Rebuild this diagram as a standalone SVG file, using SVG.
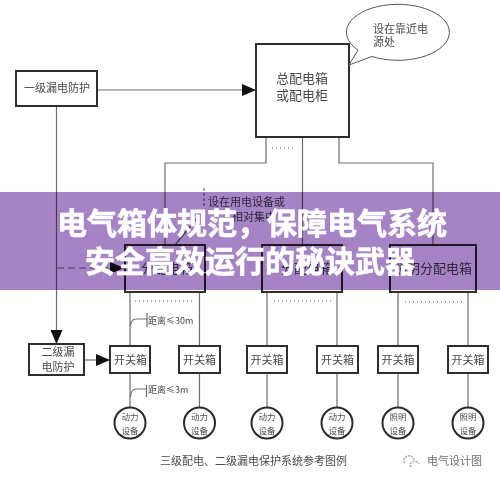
<svg xmlns="http://www.w3.org/2000/svg" width="500" height="483" viewBox="0 0 500 483">
<style>
.t{font-family:"Noto Sans CJK SC","Liberation Sans",sans-serif;fill:#4a4a4a}
.b{fill:#fff;stroke:#2e2e2e;stroke-width:2}
.l{fill:none;stroke:#6e6e6e;stroke-width:1.2}
.c{fill:#fff;stroke:#2a2a2a;stroke-width:2}
.h{font-size:11px}.k{font-size:13px}.m{font-size:11px}.s{font-size:8.5px}.x{font-size:9px}
.ti{font-family:"Noto Sans CJK SC","Liberation Sans",sans-serif;font-size:30px;font-weight:700;fill:#fff;stroke:#fff;stroke-width:.6;text-anchor:middle}
.d{fill:none;stroke:#666;stroke-width:1;stroke-dasharray:1 3}
.band{fill:#a583c5;mix-blend-mode:multiply}
</style>
<defs><marker id="a" markerUnits="userSpaceOnUse" markerWidth="15" markerHeight="12" refX="14" refY="6" orient="auto"><path d="M0 0L14 6L0 12Z" fill="#111"/></marker></defs>
<rect width="500" height="483" fill="#fff"/>
<g id="connectors">
<path class="l" d="M98 90H256" marker-end="url(#a)"/>
<path class="l" d="M56.500 106V344" marker-end="url(#a)"/>
<path class="l" d="M84 360H110" marker-end="url(#a)"/>
<path class="l" d="M266 137V163H165V245M302.500 137V245M339 137V163H433V245"/>
<path class="l" d="M130 292V346M199.500 292V346M267 292V346M337 292V346M398 292V346M468 292V346"/>
<path class="l" d="M130 373V407M199.500 373V407M267 373V407M337 373V407M398 373V407M468 373V407"/>
<path class="l" d="M130.500 326Q131 319 136 319H147M147 313V327M130.500 397Q131 389 136 389H146.500M146.500 385V397"/>
<path class="l" stroke-dasharray="7 4" d="M57 268H124" marker-end="url(#a)"/>
<path class="l" stroke-dasharray="3 2" d="M204 188V207"/>
<path class="l" d="M198 217L175 245"/>
<path class="d" d="M272 148H296M135 301H194M274 301H334M405 302H464"/>
</g>
<g id="n1"><rect class="b" x="16" y="71" width="81" height="35"/><text class="t h" x="24" y="92">一级漏电防护</text></g>
<g id="n2"><rect class="b" x="256" y="44" width="93" height="93"/><text class="t k" x="302" y="83" text-anchor="middle">总配电箱</text><text class="t k" x="302" y="100" text-anchor="middle">或配电柜</text></g>
<g id="n3"><path d="M349 65L358 50A51.500 28 0 1 1 372 56.500Z" fill="#fff" stroke="#555" stroke-width="1"/><text class="t m" x="373" y="33">设在靠近电</text><text class="t m" x="373" y="46">源处</text></g>
<g id="n4"><rect class="b" x="125" y="245" width="80" height="47"/><text class="t k" x="141" y="273">分配电箱</text></g>
<g id="n5"><rect class="b" x="262" y="245" width="80" height="47"/><text class="t k" x="281" y="273">分配电箱</text></g>
<g id="n6"><rect class="b" x="390" y="245" width="86" height="47"/><text class="t k" x="394" y="273">照明分配电箱</text></g>
<g id="n7"><text class="t m" x="208" y="206">设在用电设备或</text><text class="t m" x="232" y="221">相对集中</text></g>
<g id="n8"><rect class="b" x="29" y="344" width="55" height="31"/><text class="t h" x="58" y="356" text-anchor="middle">二级漏</text><text class="t h" x="58" y="371" text-anchor="middle">电防护</text></g>
<g id="s1"><rect class="b" x="110" y="346" width="40" height="27"/><text class="t h" x="130.500" y="364" text-anchor="middle">开关箱</text></g>
<g id="s2"><rect class="b" x="179" y="346" width="41" height="27"/><text class="t h" x="199.500" y="364" text-anchor="middle">开关箱</text></g>
<g id="s3"><rect class="b" x="247" y="346" width="40" height="27"/><text class="t h" x="267" y="364" text-anchor="middle">开关箱</text></g>
<g id="s4"><rect class="b" x="317" y="346" width="41" height="27"/><text class="t h" x="337.500" y="364" text-anchor="middle">开关箱</text></g>
<g id="s5"><rect class="b" x="378" y="346" width="40" height="27"/><text class="t h" x="398" y="364" text-anchor="middle">开关箱</text></g>
<g id="s6"><rect class="b" x="448" y="346" width="40" height="27"/><text class="t h" x="468" y="364" text-anchor="middle">开关箱</text></g>
<g id="e1"><circle class="c" cx="130" cy="423" r="15.500"/><text class="t s" x="130" y="420" text-anchor="middle">动力</text><text class="t s" x="130" y="434" text-anchor="middle">设备</text></g>
<g id="e2"><circle class="c" cx="199.500" cy="423" r="15.500"/><text class="t s" x="199.500" y="420" text-anchor="middle">动力</text><text class="t s" x="199.500" y="434" text-anchor="middle">设备</text></g>
<g id="e3"><circle class="c" cx="267" cy="423" r="15.500"/><text class="t s" x="267" y="420" text-anchor="middle">动力</text><text class="t s" x="267" y="434" text-anchor="middle">设备</text></g>
<g id="e4"><circle class="c" cx="337" cy="423" r="15.500"/><text class="t s" x="337" y="420" text-anchor="middle">动力</text><text class="t s" x="337" y="434" text-anchor="middle">设备</text></g>
<g id="e5"><circle class="c" cx="398" cy="423" r="15.500"/><text class="t s" x="398" y="420" text-anchor="middle">照明</text><text class="t s" x="398" y="434" text-anchor="middle">设备</text></g>
<g id="e6"><circle class="c" cx="468" cy="423" r="15.500"/><text class="t s" x="468" y="420" text-anchor="middle">照明</text><text class="t s" x="468" y="434" text-anchor="middle">设备</text></g>
<text class="t x" x="148" y="324">距离≤30m</text>
<text class="t x" x="148" y="393">距离≤3m</text>
<text class="t" font-size="11" x="160" y="465">三级配电、二级漏电保护系统参考图例</text>
<path d="M405 463a5 4.500 0 1 1 9 -2M411 467a4.500 3.500 0 1 1 8 -3" fill="none" stroke="#aaa" stroke-width="1.500" stroke-dasharray="2 1"/>
<text class="t" font-size="11" x="427" y="465" fill-opacity="0.8">电气设计图</text>
<rect class="band" x="0" y="192" width="500" height="98"/>
<text class="ti" x="252" y="234">电气箱体规范，保障电气系统</text>
<text class="ti" x="250" y="272">安全高效运行的秘诀武器</text>
</svg>
